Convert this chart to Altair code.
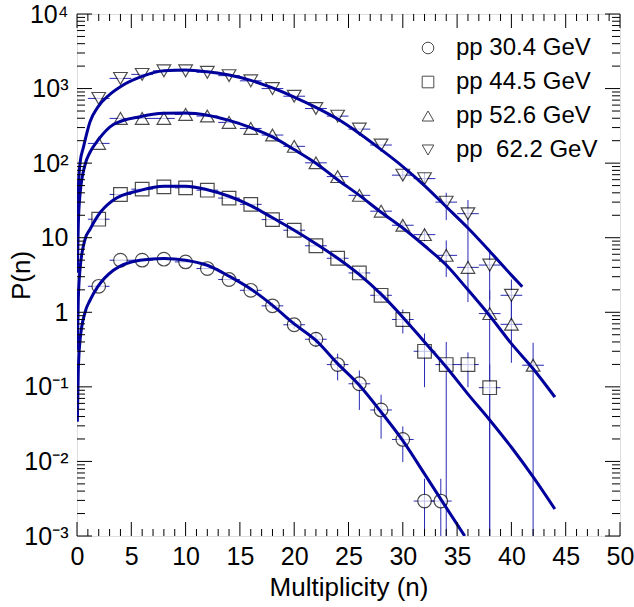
import json
import altair as alt
import pandas as pd

W, H = 543, 522

SERIES = ["pp 30.4 GeV", "pp 44.5 GeV", "pp 52.6 GeV", "pp\u00a0 62.2 GeV"]
SHAPES = ["circle", "square", "triangle-up", "triangle-down"]

# ---- measured points (n, P(n)) with vertical error limits ----
n_304 = [2, 4, 6, 8, 10, 12, 14, 16, 18, 20, 22, 24, 26, 28, 30, 32, 33.5]
p_304 = [2.23, 4.99, 5.0, 5.15, 4.74, 3.86, 2.75, 1.97, 1.22, 0.68, 0.435, 0.199, 0.11, 0.049, 0.0197, 0.00294, 0.00294]
lo_304 = [2.23, 4.99, 5.0, 5.15, 4.74, 3.86, 2.75, 1.97, 1.1, 0.6, 0.342, 0.122, 0.049, 0.0202, 0.0098, 0.0001, 0.0001]
hi_304 = [2.23, 4.99, 5.0, 5.15, 4.74, 3.86, 2.75, 1.97, 1.36, 0.77, 0.544, 0.279, 0.166, 0.0785, 0.0295, 0.00586, 0.00586]

n_445 = [2, 4, 6, 8, 10, 12, 14, 16, 18, 20, 22, 24, 26, 28, 30, 32, 34, 36, 38]
p_445 = [17.7, 38, 44.8, 48, 46.6, 43.4, 34, 28, 17.5, 12.6, 7.8, 5.3, 3.37, 1.69, 0.80, 0.30, 0.199, 0.199, 0.0975]
lo_445 = [17.7, 38, 44.8, 48, 46.6, 43.4, 34, 28, 17.5, 12.6, 7.8, 5.3, 3.0, 1.45, 0.52, 0.099, 0.0001, 0.099, 0.0001]
hi_445 = [17.7, 38, 44.8, 48, 46.6, 43.4, 34, 28, 17.5, 12.6, 7.8, 5.3, 3.8, 1.95, 1.09, 0.52, 0.40, 0.29, 0.2]

n_526 = [2, 4, 6, 8, 10, 12, 14, 16, 18, 20, 22, 24, 26, 28, 30, 32, 34, 36, 38, 40, 42]
p_526 = [184, 398, 398, 398, 450, 428, 352, 292, 238, 168, 101, 66, 37, 22.7, 14.7, 11, 5.8, 4.0, 0.96, 0.69, 0.195]
lo_526 = [184, 398, 398, 398, 450, 428, 352, 292, 238, 168, 101, 66, 37, 22.7, 13.0, 9.0, 2.98, 1.37, 0.0001, 0.21, 0.0001]
hi_526 = [184, 398, 398, 398, 450, 428, 352, 292, 238, 168, 101, 66, 37, 22.7, 16.5, 13.0, 9.2, 6.8, 1.97, 1.45, 0.39]

n_622 = [2, 4, 6, 8, 10, 12, 14, 16, 18, 20, 22, 24, 26, 28, 30, 32, 34, 36, 38, 40]
p_622 = [738, 1370, 1550, 1730, 1730, 1650, 1490, 1270, 1000, 790, 540, 427, 286, 175, 69, 62, 30, 21, 4.3, 1.69]
lo_622 = [738, 1370, 1550, 1730, 1730, 1650, 1490, 1270, 1000, 790, 540, 427, 286, 175, 60, 52, 17.2, 6.8, 1.45, 0.78]
hi_622 = [738, 1370, 1550, 1730, 1730, 1650, 1490, 1270, 1000, 790, 540, 427, 286, 175, 80, 74, 40, 32, 6.8, 2.75]

BIN_HALF = 1.0

# ---- fitted curves ----
cn_304 = [0.03, 0.12, 0.28, 0.74, 1.2, 1.9, 3.35, 5.8, 8, 10, 12, 14, 16, 18, 20, 22, 24, 26, 28, 30, 32, 34, 35.7]
cp_304 = [0.034, 0.166, 0.42, 1.0, 1.45, 2.19, 3.66, 5.0, 5.27, 5.0, 4.27, 3.05, 2.05, 1.24, 0.70, 0.42, 0.205, 0.105, 0.046, 0.019, 0.0068, 0.0024, 0.001]

cn_445 = [0.03, 0.12, 0.28, 0.74, 1.2, 1.9, 3.35, 5.8, 8, 10, 12, 14, 16, 18, 20, 22, 24, 26, 28, 30, 32, 34, 36, 38, 40, 42, 44]
cp_445 = [0.31, 1.5, 3.8, 9.5, 13, 19.5, 32, 43, 49, 49, 44, 36, 27, 18.5, 12.6, 8.3, 5.3, 3.2, 1.75, 0.86, 0.40, 0.185, 0.08, 0.036, 0.0155, 0.0062, 0.0023]

cn_526 = [0.03, 0.12, 0.28, 0.74, 1.2, 1.9, 3.35, 5.8, 8, 10, 12, 14, 16, 18, 20, 22, 24, 26, 28, 30, 32, 34, 36, 38, 40, 42, 44]
cp_526 = [3.4, 15, 38, 95, 140, 200, 330, 420, 465, 470, 440, 375, 300, 225, 152, 100, 60, 37, 22, 13.5, 7.8, 4.3, 2.0, 0.9, 0.38, 0.175, 0.073]

cn_622 = [0.03, 0.12, 0.28, 0.6, 1.2, 1.9, 3, 4, 5.8, 8, 10, 12, 14, 16, 18, 20, 22, 24, 26, 28, 30, 32, 34, 36, 38, 40, 41]
cp_622 = [10, 45, 100, 165, 360, 560, 830, 1060, 1420, 1730, 1770, 1680, 1520, 1290, 1020, 770, 560, 390, 250, 152, 90, 50, 26, 13.5, 6.6, 3.15, 2.2]

# ---- axis ticks / labels ----
X_MAJOR = [0, 5, 10, 15, 20, 25, 30, 35, 40, 45, 50]
X_MINOR = [v for v in range(0, 51) if v % 5 != 0]
Y_MAJOR = [0.001, 0.01, 0.1, 1, 10, 100, 1000, 10000]
Y_MINOR = [k * 10.0 ** d for d in range(-3, 4) for k in range(2, 10)]
Y_LABELS = ["10\u207b\u00b3", "10\u207b\u00b2", "10\u207b\u00b9", "1", "10", "10\u00b2", "10\u00b3", "10\u2074"]

FONT = "Liberation Sans"
CURVE = "#00009c"
ERR = "#2a2ab4"

rows = []
for name, ns, ps, los, his in [
    (SERIES[0], n_304, p_304, lo_304, hi_304),
    (SERIES[1], n_445, p_445, lo_445, hi_445),
    (SERIES[2], n_526, p_526, lo_526, hi_526),
    (SERIES[3], n_622, p_622, lo_622, hi_622),
]:
    for n, p, lo, hi in zip(ns, ps, los, his):
        rows.append(dict(series=name, n=n, p=p, lo=lo, hi=hi, nlo=n - BIN_HALF, nhi=n + BIN_HALF))
pts = pd.DataFrame(rows)

crows = []
for name, ns, ps in [(SERIES[0], cn_304, cp_304), (SERIES[1], cn_445, cp_445),
                     (SERIES[2], cn_526, cp_526), (SERIES[3], cn_622, cp_622)]:
    for n, p in zip(ns, ps):
        crows.append(dict(series=name, n=n, p=p))
curves_df = pd.DataFrame(crows)

xscale = alt.Scale(domain=[0, 50], nice=False, zero=False)
yscale = alt.Scale(type="log", domain=[0.001, 10000], nice=False)

label_expr = json.dumps(Y_LABELS, ensure_ascii=False) + "[round(log(datum.value)/LN10)+3]"

xaxis = alt.Axis(values=X_MAJOR, title="Multiplicity (n)", grid=False, ticks=False, domain=False,
                 labelFont=FONT, labelFontSize=25, labelColor="black", labelPadding=8,
                 titleFont=FONT, titleFontSize=26, titleFontWeight="normal", titleColor="black",
                 titlePadding=5, labelFlush=False)
yaxis = alt.Axis(values=Y_MAJOR, title="P(n)", grid=False, ticks=False, domain=False,
                 labelExpr=label_expr, labelFont=FONT, labelFontSize=25, labelColor="black",
                 labelPadding=9, titleFont=FONT, titleFontSize=26, titleFontWeight="normal",
                 titleColor="black", titleX=-56, titleBaseline="middle", labelFlush=False)

# horizontal error bars (first layer carries the axes)
herr = alt.Chart(pts).mark_rule(color=ERR, strokeWidth=1, clip=True).encode(
    x=alt.X("nlo:Q", scale=xscale, axis=xaxis), x2="nhi:Q",
    y=alt.Y("p:Q", scale=yscale, axis=yaxis))
verr = alt.Chart(pts).mark_rule(color=ERR, strokeWidth=1, clip=True).encode(
    x=alt.X("n:Q", scale=xscale), y=alt.Y("lo:Q", scale=yscale), y2="hi:Q")

markers = alt.Chart(pts).mark_point(filled=False, fill="white", stroke="black",
                                    strokeWidth=1.2, size=185).encode(
    x=alt.X("n:Q", scale=xscale), y=alt.Y("p:Q", scale=yscale),
    shape=alt.Shape("series:N", scale=alt.Scale(domain=SERIES, range=SHAPES),
                    legend=alt.Legend(title=None, orient="none", legendX=339, legendY=22,
                                      padding=0, symbolSize=135, symbolStrokeWidth=1,
                                      labelFont=FONT, labelFontSize=24, labelColor="black",
                                      labelOffset=16, rowPadding=10, labelLimit=300)),
)

curves = alt.Chart(curves_df).mark_line(color=CURVE, strokeWidth=3, interpolate="monotone", clip=True).encode(
    x=alt.X("n:Q", scale=xscale), y=alt.Y("p:Q", scale=yscale), detail="series:N")

# tick rule layers
xt_major = pd.DataFrame({"v": X_MAJOR})
xt_minor = pd.DataFrame({"v": X_MINOR})
yt_major = pd.DataFrame({"v": Y_MAJOR})
yt_minor = pd.DataFrame({"v": Y_MINOR})

def xticks(df, length):
    b = alt.Chart(df).mark_rule(color="black", strokeWidth=1).encode(
        x=alt.X("v:Q", scale=xscale), y=alt.value(H), y2=alt.value(H - length))
    t = alt.Chart(df).mark_rule(color="black", strokeWidth=1).encode(
        x=alt.X("v:Q", scale=xscale), y=alt.value(0), y2=alt.value(length))
    return [b, t]

def yticks(df, length):
    l = alt.Chart(df).mark_rule(color="black", strokeWidth=1).encode(
        y=alt.Y("v:Q", scale=yscale), x=alt.value(0), x2=alt.value(length))
    r = alt.Chart(df).mark_rule(color="black", strokeWidth=1).encode(
        y=alt.Y("v:Q", scale=yscale), x=alt.value(W), x2=alt.value(W - length))
    return [l, r]

layers = [herr, verr, markers, curves] + xticks(xt_major, 14) + xticks(xt_minor, 7) \
    + yticks(yt_major, 15) + yticks(yt_minor, 8)

chart = alt.layer(*layers).properties(
    width=W, height=H,
    padding={"left": 77, "top": 14, "right": 14, "bottom": 71},
    autosize=alt.AutoSizeParams(type="none"),
).configure_view(stroke="black", strokeWidth=1.5).configure(background="white")

chart.save("out.html", embed_options={"renderer": "svg", "actions": False})
